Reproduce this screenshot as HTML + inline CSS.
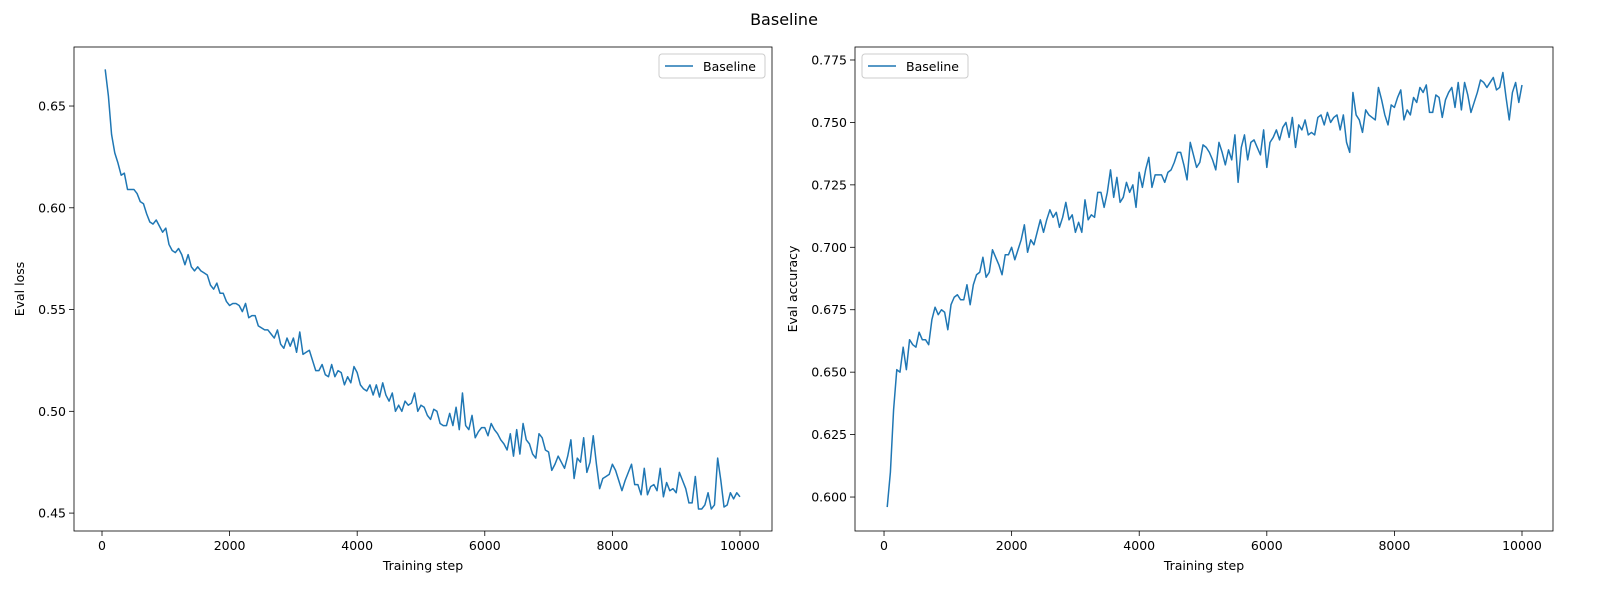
<!DOCTYPE html>
<html><head><meta charset="utf-8"><style>
body{margin:0;background:#fff;}
svg{display:block;font-family:"DejaVu Sans","Liberation Sans",sans-serif;}
</style></head><body>
<svg id="chart" width="1600" height="600" viewBox="0 0 1600 600" xmlns="http://www.w3.org/2000/svg">
<rect width="1600" height="600" fill="#fff"/>
<text x="784" y="25" font-size="16" text-anchor="middle">Baseline</text>
</svg>
<script>
const lossValues = [0.668,0.655,0.636,0.627,0.622,0.616,0.617,0.609,0.609,0.609,0.607,0.603,0.602,0.597,0.593,0.592,0.594,0.591,0.588,0.590,
0.582,0.579,0.578,0.580,0.577,0.572,0.577,0.571,0.569,0.571,0.569,0.568,0.567,0.562,0.560,0.563,0.558,0.558,0.554,0.552,
0.553,0.553,0.552,0.549,0.553,0.546,0.547,0.547,0.542,0.541,0.540,0.540,0.538,0.536,0.540,0.533,0.531,0.536,0.532,0.536,
0.529,0.539,0.528,0.529,0.530,0.525,0.520,0.520,0.523,0.518,0.517,0.523,0.517,0.520,0.519,0.513,0.517,0.514,0.522,0.519,
0.513,0.511,0.510,0.513,0.508,0.513,0.507,0.514,0.508,0.505,0.509,0.500,0.503,0.500,0.505,0.503,0.504,0.509,0.500,0.503,
0.502,0.498,0.496,0.501,0.500,0.494,0.493,0.493,0.499,0.493,0.502,0.491,0.509,0.493,0.491,0.498,0.487,0.490,0.492,0.492,
0.488,0.494,0.491,0.489,0.486,0.484,0.481,0.489,0.478,0.491,0.479,0.494,0.486,0.484,0.479,0.477,0.489,0.487,0.481,0.480,
0.471,0.474,0.478,0.475,0.472,0.478,0.486,0.467,0.477,0.475,0.487,0.470,0.475,0.488,0.474,0.462,0.467,0.468,0.469,0.474,
0.471,0.466,0.461,0.466,0.470,0.474,0.464,0.464,0.459,0.472,0.459,0.463,0.464,0.461,0.472,0.458,0.465,0.461,0.462,0.460,
0.470,0.466,0.462,0.455,0.455,0.468,0.452,0.452,0.454,0.460,0.452,0.454,0.477,0.466,0.453,0.454,0.460,0.457,0.460,0.458];
const accValues = [0.596,0.610,0.635,0.651,0.650,0.660,0.651,0.663,0.661,0.660,0.666,0.663,0.663,0.661,0.671,0.676,0.673,0.675,0.674,0.667,
0.677,0.680,0.681,0.679,0.679,0.685,0.677,0.685,0.689,0.690,0.696,0.688,0.690,0.699,0.696,0.693,0.689,0.697,0.697,0.700,
0.695,0.699,0.703,0.709,0.698,0.703,0.701,0.706,0.711,0.706,0.711,0.715,0.712,0.714,0.708,0.712,0.718,0.711,0.713,0.706,
0.710,0.706,0.719,0.711,0.713,0.712,0.722,0.722,0.716,0.722,0.731,0.720,0.728,0.718,0.720,0.726,0.722,0.725,0.716,0.730,
0.724,0.731,0.736,0.724,0.729,0.729,0.729,0.726,0.730,0.731,0.734,0.738,0.738,0.733,0.727,0.742,0.737,0.732,0.734,0.741,
0.740,0.738,0.735,0.731,0.742,0.738,0.733,0.739,0.735,0.745,0.726,0.740,0.745,0.735,0.742,0.743,0.740,0.737,0.747,0.732,
0.742,0.744,0.747,0.743,0.748,0.750,0.744,0.752,0.740,0.749,0.747,0.751,0.745,0.746,0.745,0.752,0.753,0.749,0.754,0.750,
0.752,0.753,0.747,0.753,0.742,0.738,0.762,0.753,0.751,0.746,0.755,0.753,0.752,0.751,0.764,0.759,0.753,0.749,0.757,0.756,
0.760,0.763,0.751,0.755,0.753,0.760,0.758,0.764,0.762,0.765,0.754,0.754,0.761,0.760,0.752,0.759,0.762,0.764,0.756,0.766,
0.755,0.766,0.761,0.754,0.758,0.762,0.767,0.766,0.764,0.766,0.768,0.763,0.764,0.770,0.760,0.751,0.762,0.766,0.758,0.765];
const xTicks = [0,2000,4000,6000,8000,10000];
const lossTicks = [0.45,0.50,0.55,0.60,0.65];
const accTicks = [0.600,0.625,0.650,0.675,0.700,0.725,0.750,0.775];
const stepStart = 50, stepSize = 50;

const NS = 'http://www.w3.org/2000/svg';
const svg = document.getElementById('chart');
function mk(tag, attrs, parent){const e=document.createElementNS(NS,tag);for(const k in attrs)e.setAttribute(k,attrs[k]);(parent||svg).appendChild(e);return e;}

function panel(cfg){
  const {left,top,w,h,xmin,xmax,ymin,ymax,values,yTicks,dec,ylabel,legendX,name}=cfg;
  const g=mk('g',{});
  
  
  const sx=v=>left+(v-xmin)/(xmax-xmin)*w;
  const sy=v=>top+h-(v-ymin)/(ymax-ymin)*h;
  let d='';
  values.forEach((v,i)=>{const s=stepStart+i*stepSize;d+=(i?'L':'M')+sx(s).toFixed(2)+','+sy(v).toFixed(2);});
  const line=mk('path',{d:d,fill:'none',stroke:'#1f77b4','stroke-width':1.5,'stroke-linejoin':'round'},g);
  
  
  const frame=mk('rect',{x:left,y:top,width:w,height:h,fill:'none',stroke:'#000','stroke-width':0.8},g);
  
  
  xTicks.forEach(t=>{
    const x=sx(t);
    mk('line',{x1:x,x2:x,y1:top+h,y2:top+h+5,stroke:'#000','stroke-width':0.8},g);
    const tl=mk('text',{x:x,y:top+h+19,'font-size':12.5,'text-anchor':'middle'},g);
    tl.textContent=t;
    
    
  });
  yTicks.forEach(t=>{
    const y=sy(t);
    mk('line',{x1:left-5,x2:left,y1:y,y2:y,stroke:'#000','stroke-width':0.8},g);
    const tl=mk('text',{x:left-8,y:y+4.5,'font-size':12.5,'text-anchor':'end'},g);
    tl.textContent=t.toFixed(dec);
    
    
  });
  const xl=mk('text',{x:left+w/2,y:top+h+39,'font-size':12.5,'text-anchor':'middle'},g);
  xl.textContent='Training step';
  
  
  const ylx=cfg.ylx;
  const yl=mk('text',{x:ylx,y:top+h/2,'font-size':12.5,'text-anchor':'middle',transform:`rotate(-90 ${ylx} ${top+h/2})`},g);
  yl.textContent=ylabel;
  
  
  const lg=mk('g',{},g);
  
  
  mk('rect',{x:legendX,y:top+7,width:106,height:24,rx:3,fill:'#fff','fill-opacity':0.8,stroke:'#ccc','stroke-width':1},lg);
  mk('line',{x1:legendX+6,x2:legendX+34,y1:top+19,y2:top+19,stroke:'#1f77b4','stroke-width':1.5},lg);
  const lt=mk('text',{x:legendX+44,y:top+24,'font-size':12.5},lg);
  lt.textContent='Baseline';
  
  
}
panel({name:'eval-loss',left:74,top:47,w:698,h:484,xmin:-439,xmax:10502,ymin:0.4412,ymax:0.679,values:lossValues,yTicks:lossTicks,dec:2,ylabel:'Eval loss',legendX:659,ylx:24});
panel({name:'eval-accuracy',left:855,top:47,w:698,h:484,xmin:-455,xmax:10486,ymin:0.5864,ymax:0.7802,values:accValues,yTicks:accTicks,dec:3,ylabel:'Eval accuracy',legendX:862,ylx:797});
</script>
</body></html>
